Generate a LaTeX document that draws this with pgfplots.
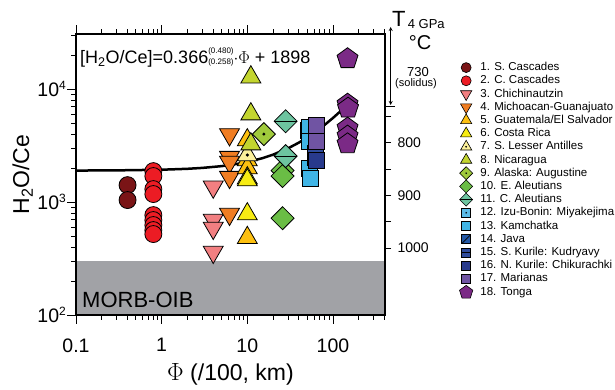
\documentclass[border=0pt]{standalone}
\usepackage{fontspec}
\setmainfont{Liberation Sans}
\usepackage{pgfplots}
\pgfplotsset{compat=1.18}
\definecolor{c1}{HTML}{7A1416}
\definecolor{c2}{HTML}{EC1C24}
\definecolor{c3}{HTML}{F27F81}
\definecolor{c4}{HTML}{F07D22}
\definecolor{c5}{HTML}{FDC010}
\definecolor{c6}{HTML}{F7EC13}
\definecolor{c7}{HTML}{FBF09B}
\definecolor{c8}{HTML}{C3D52F}
\definecolor{c9}{HTML}{A0CA3C}
\definecolor{c10}{HTML}{6ABD45}
\definecolor{c11}{HTML}{6DC4A0}
\definecolor{c12}{HTML}{5BBBE8}
\definecolor{c13}{HTML}{40B5E6}
\definecolor{c14}{HTML}{2358A6}
\definecolor{c15}{HTML}{2E4B9B}
\definecolor{c16}{HTML}{283A8C}
\definecolor{c17}{HTML}{7054A3}
\definecolor{c18}{HTML}{7B2A86}
\definecolor{morb}{HTML}{A1A2A6}

\pgfdeclareplotmark{utri}{%
  \pgfpathmoveto{\pgfqpointpolar{90}{\pgfplotmarksize}}%
  \pgfpathlineto{\pgfqpointpolar{210}{\pgfplotmarksize}}%
  \pgfpathlineto{\pgfqpointpolar{330}{\pgfplotmarksize}}%
  \pgfpathclose\pgfusepathqfillstroke}
\pgfdeclareplotmark{dtri}{%
  \pgfpathmoveto{\pgfqpointpolar{270}{\pgfplotmarksize}}%
  \pgfpathlineto{\pgfqpointpolar{30}{\pgfplotmarksize}}%
  \pgfpathlineto{\pgfqpointpolar{150}{\pgfplotmarksize}}%
  \pgfpathclose\pgfusepathqfillstroke}
\pgfdeclareplotmark{utridot}{%
  \pgfuseplotmark{utri}%
  \pgfscope\pgfsetfillcolor{black}%
  \pgfpathcircle{\pgfpointorigin}{0.15\pgfplotmarksize}\pgfusepathqfill\endpgfscope}
\pgfdeclareplotmark{dmd}{%
  \pgfpathmoveto{\pgfqpoint{0pt}{\pgfplotmarksize}}%
  \pgfpathlineto{\pgfqpoint{\pgfplotmarksize}{0pt}}%
  \pgfpathlineto{\pgfqpoint{0pt}{-\pgfplotmarksize}}%
  \pgfpathlineto{\pgfqpoint{-\pgfplotmarksize}{0pt}}%
  \pgfpathclose\pgfusepathqfillstroke}
\pgfdeclareplotmark{dmddot}{%
  \pgfuseplotmark{dmd}%
  \pgfscope\pgfsetfillcolor{black}%
  \pgfpathcircle{\pgfpointorigin}{0.14\pgfplotmarksize}\pgfusepathqfill\endpgfscope}
\pgfdeclareplotmark{dmdline}{%
  \pgfuseplotmark{dmd}%
  \pgfpathmoveto{\pgfqpoint{-\pgfplotmarksize}{0pt}}%
  \pgfpathlineto{\pgfqpoint{\pgfplotmarksize}{0pt}}\pgfusepathqstroke}
\pgfdeclareplotmark{sqr}{%
  \pgfpathrectangle{\pgfqpoint{-\pgfplotmarksize}{-\pgfplotmarksize}}{\pgfqpoint{2\pgfplotmarksize}{2\pgfplotmarksize}}%
  \pgfusepathqfillstroke}
\pgfdeclareplotmark{sqrdot}{%
  \pgfuseplotmark{sqr}%
  \pgfscope\pgfsetfillcolor{black}%
  \pgfpathcircle{\pgfpointorigin}{0.2\pgfplotmarksize}\pgfusepathqfill\endpgfscope}
\pgfdeclareplotmark{sqrline}{%
  \pgfuseplotmark{sqr}%
  \pgfpathmoveto{\pgfqpoint{-\pgfplotmarksize}{0pt}}%
  \pgfpathlineto{\pgfqpoint{\pgfplotmarksize}{0pt}}\pgfusepathqstroke}
\pgfdeclareplotmark{sqrdiag}{%
  \pgfuseplotmark{sqr}%
  \pgfpathmoveto{\pgfqpoint{-\pgfplotmarksize}{-\pgfplotmarksize}}%
  \pgfpathlineto{\pgfqpoint{\pgfplotmarksize}{\pgfplotmarksize}}\pgfusepathqstroke}
\pgfdeclareplotmark{pent}{%
  \pgfpathmoveto{\pgfqpointpolar{90}{\pgfplotmarksize}}%
  \pgfpathlineto{\pgfqpointpolar{162}{\pgfplotmarksize}}%
  \pgfpathlineto{\pgfqpointpolar{234}{\pgfplotmarksize}}%
  \pgfpathlineto{\pgfqpointpolar{306}{\pgfplotmarksize}}%
  \pgfpathlineto{\pgfqpointpolar{18}{\pgfplotmarksize}}%
  \pgfpathclose\pgfusepathqfillstroke}

\pgfplotsset{
  pts/.style n args={3}{only marks, forget plot, mark=#1, mark size=#3,
     mark options={fill=#2, draw=black, line width=0.8pt, solid}},
  lg/.style n args={3}{only marks, mark=#1, mark size=#3,
     mark options={fill=#2, draw=black, line width=0.6pt, solid}},
}

\begin{document}
\begin{tikzpicture}
\path[use as bounding box] (0pt,0pt) rectangle (615pt,390pt);
% temperature axis
\begin{axis}[
  at={(76pt,75pt)}, anchor=south west, scale only axis,
  width=309pt, height=281pt,
  xmin=0, xmax=1, ymin=593, ymax=1127, y dir=reverse,
  axis x line=none, axis y line*=right,
  axis line style={line width=1.1pt, -},
  ytick={750,800,850,900,950,1000},
  yticklabels={,800,,900,,1000},
  extra y ticks={730}, extra y tick labels={},
  extra y tick style={major tick length=10pt},
  tick align=outside, major tick length=6pt,
  every tick/.style={black, line width=0.9pt},
  tick label style={font=\fontsize{14}{15}\selectfont},
  yticklabel style={xshift=3pt},
]
\addplot[draw=none, forget plot] coordinates {(0.5,800)};
\end{axis}
% main axis
\begin{axis}[
  at={(76pt,75pt)}, anchor=south west, scale only axis,
  width=309pt, height=281pt,
  xmode=log, ymode=log,
  xmin=0.1, xmax=405, ymin=100, ymax=30800,
  xtick={0.1,1,10,100}, xticklabels={0.1,1,10,100},
  minor xtick={0.2,0.3,0.4,0.5,0.6,0.7,0.8,0.9,2,3,4,5,6,7,8,9,20,30,40,50,60,70,80,90,200,300,400},
  ytick={100,1000,10000},
  yticklabels={10\raisebox{7pt}{\fontsize{12}{12}\selectfont 2},10\raisebox{7pt}{\fontsize{12}{12}\selectfont 3},10\raisebox{7pt}{\fontsize{12}{12}\selectfont 4}},
  minor ytick={200,300,400,500,600,700,800,900,2000,3000,4000,5000,6000,7000,8000,9000,20000,30000},
  ytick pos=left,
  tick align=outside,
  major tick length=9pt, minor tick length=5pt,
  every tick/.style={black, line width=0.9pt},
  axis line style={line width=1.1pt},
  tick label style={font=\fontsize{19.5}{20}\selectfont},
  yticklabel style={inner sep=1pt},
  xticklabel style={yshift=-11pt},
  xlabel={$\Phi$ (/100, km)},
  ylabel={H\textsubscript{2}O/Ce},
  label style={font=\fontsize{23}{24}\selectfont},
  xlabel style={yshift=-4pt},
  axis on top,
  legend cell align=left,
  legend style={at={(axis description cs:1,1)}, anchor=north west,
    xshift=74.5pt, yshift=-27pt, draw=none, fill=none,
    inner sep=0pt, outer sep=0pt, column sep=7pt, row sep=0pt,
    font=\fontsize{11.5}{13}\selectfont,
    nodes={inner sep=0.6pt, text height=9.2pt, text depth=2.8pt}},
]
\addplot[fill=morb, draw=none, forget plot] coordinates {(0.1,100) (405,100) (405,300) (0.1,300) (0.1,100)};
\addplot[black, line width=2.5pt, forget plot] coordinates {
 (0.1,1902) (0.3,1909) (1,1935) (2,1971) (3,2008) (5,2081) (8,2191) (10,2264)
 (15,2447) (20,2630) (30,2996) (40,3362) (50,3728) (60,4094) (70,4460)
 (80,4826) (100,5558) (120,6290) (148,7315)};
\addplot[pts={*}{c1}{8.5pt}] coordinates {(0.4,1413) (0.4,1042)};
\addplot[pts={*}{c2}{8.5pt}] coordinates {(0.8,1880) (0.8,1700) (0.8,1303) (0.8,1178) (0.8,767) (0.8,693) (0.8,626) (0.8,565) (0.8,521)};
\addplot[pts={dtri}{c3}{11.5pt}] coordinates {(4,1365) (4,693) (4,589) (4,361)};
\addplot[pts={dtri}{c4}{11.5pt}] coordinates {(6.2,3970) (6.2,2500) (6.2,2260) (6.2,1663) (6.2,783)};
\addplot[pts={utri}{c5}{11.5pt}] coordinates {(10,3540) (10,2355) (10,2000) (10,483)};
\addplot[pts={utri}{c6}{11.5pt}] coordinates {(10,1630) (10,1566) (10,783)};
\addplot[pts={utridot}{c7}{11.5pt}] coordinates {(10,2610)};
\addplot[pts={utri}{c8}{11.5pt}] coordinates {(11,12770) (11,6010) (11,3260)};
\addplot[pts={dmddot}{c9}{11.5pt}] coordinates {(15.6,4000)};
\addplot[pts={dmd}{c10}{11.5pt}] coordinates {(25.8,1900) (25.8,1700) (25.8,720)};
\addplot[pts={dmdline}{c11}{11.5pt}] coordinates {(28,5200) (28,2550)};
\addplot[pts={sqrdot}{c12}{8pt}] coordinates {(52,4300)};
\addplot[pts={sqr}{c13}{8pt}] coordinates {(53,4600) (53,3450) (53,2000) (55,1620)};
\addplot[pts={sqrdiag}{c14}{8pt}] coordinates {(63,2700)};
\addplot[pts={sqrline}{c15}{8pt}] coordinates {(63,2500)};
\addplot[pts={sqr}{c16}{8pt}] coordinates {(64,2355)};
\addplot[pts={sqr}{c17}{8pt}] coordinates {(64,4800) (64,3430)};
\addplot[pts={pent}{c18}{11pt}] coordinates {(148,18600) (148,7360) (150,6790) (148,4520) (148,3840) (148,3280)};
% legend
\addlegendimage{lg={*}{c1}{5pt}}\addlegendentry{1. S. Cascades}
\addlegendimage{lg={*}{c2}{5pt}}\addlegendentry{2. C. Cascades}
\addlegendimage{lg={dtri}{c3}{6.5pt}}\addlegendentry{3. Chichinautzin}
\addlegendimage{lg={dtri}{c4}{6.5pt}}\addlegendentry{4. Michoacan-Guanajuato}
\addlegendimage{lg={utri}{c5}{6.5pt}}\addlegendentry{5. Guatemala/El Salvador}
\addlegendimage{lg={utri}{c6}{6.5pt}}\addlegendentry{6. Costa Rica}
\addlegendimage{lg={utridot}{c7}{6.5pt}}\addlegendentry{7. S. Lesser Antilles}
\addlegendimage{lg={utri}{c8}{6.5pt}}\addlegendentry{8. Nicaragua}
\addlegendimage{lg={dmddot}{c9}{6.5pt}}\addlegendentry{9. Alaska: Augustine}
\addlegendimage{lg={dmd}{c10}{6.5pt}}\addlegendentry{10. E. Aleutians}
\addlegendimage{lg={dmdline}{c11}{6.5pt}}\addlegendentry{11. C. Aleutians}
\addlegendimage{lg={sqrdot}{c12}{4.5pt}}\addlegendentry{12. Izu-Bonin: Miyakejima}
\addlegendimage{lg={sqr}{c13}{4.5pt}}\addlegendentry{13. Kamchatka}
\addlegendimage{lg={sqrdiag}{c14}{4.5pt}}\addlegendentry{14. Java}
\addlegendimage{lg={sqrline}{c15}{4.5pt}}\addlegendentry{15. S. Kurile: Kudryavy}
\addlegendimage{lg={sqr}{c16}{4.5pt}}\addlegendentry{16. N. Kurile: Chikurachki}
\addlegendimage{lg={sqr}{c17}{4.5pt}}\addlegendentry{17. Marianas}
\addlegendimage{lg={pent}{c18}{7pt}}\addlegendentry{18. Tonga}
\end{axis}
% annotations
\node[anchor=base west, inner sep=0pt] at (80pt,326.7pt) {\fontsize{18}{20}\selectfont [H\textsubscript{2}O/Ce]=0.366\makebox[0pt][l]{\raisebox{10pt}{\fontsize{8}{8}\selectfont (0.480)}}\raisebox{-1pt}{\fontsize{8}{8}\selectfont (0.258)}$\cdot\Phi$ + 1898};
\node[anchor=base west, inner sep=0pt] at (82pt,82pt) {\fontsize{22}{24}\selectfont MORB-OIB};
\node[anchor=base west, inner sep=0pt] at (392pt,363.5pt) {\fontsize{22}{24}\selectfont T\raisebox{-2.5pt}{\fontsize{13}{14}\selectfont\,4 GPa}};
\node[anchor=base, inner sep=0pt] at (420pt,340pt) {\fontsize{20}{22}\selectfont °C};
\node[anchor=base, inner sep=0pt] at (418pt,313pt) {\fontsize{13}{14}\selectfont 730};
\node[anchor=base, inner sep=0pt] at (416pt,303pt) {\fontsize{11}{12}\selectfont (solidus)};
\draw[<->, >=stealth, line width=0.8pt] (390.7pt,363pt) -- (390.7pt,285pt);
\end{tikzpicture}
\end{document}
